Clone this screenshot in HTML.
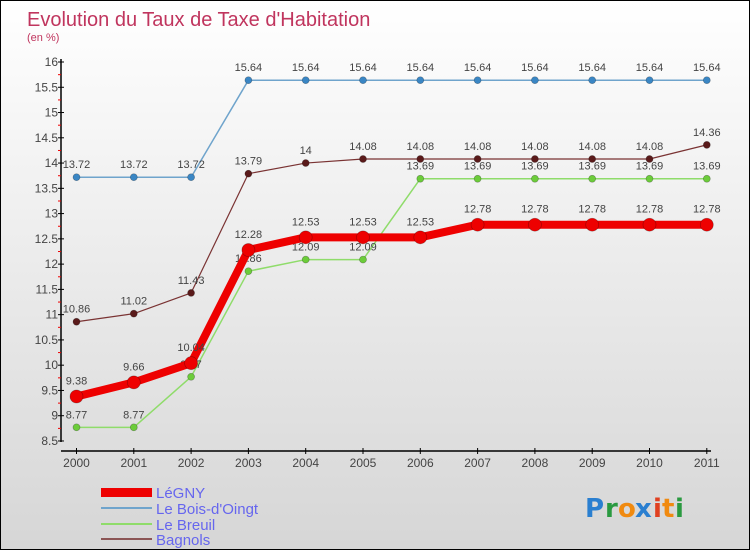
<!DOCTYPE html>
<html><head><meta charset="utf-8"><style>
body{margin:0}
#root{position:relative;width:748px;height:548px;border:1px solid #000;background:linear-gradient(#ffffff,#d6d6d6);font-family:"Liberation Sans",sans-serif;overflow:hidden}
</style></head><body>
<div id="root">
<svg id="svg" width="748" height="548" xmlns="http://www.w3.org/2000/svg" style="position:absolute;left:0;top:0">
<text x="26" y="25" font-size="20" fill="#c0355e">Evolution du Taux de Taxe d'Habitation</text>
<text x="26" y="40" font-size="11" fill="#c0355e">(en %)</text>
<g id="axes"></g><g id="series"></g>
<g>
<rect x="100" y="487" width="51" height="9" fill="#ee0000"/>
<text x="155" y="497" font-size="15" fill="#6666ee">LéGNY</text>
<rect x="100" y="506" width="51" height="2" fill="#6fa4cc"/>
<text x="155" y="513" font-size="15" fill="#6666ee">Le Bois-d'Oingt</text>
<rect x="100" y="522" width="51" height="2" fill="#8fdc6a"/>
<text x="155" y="529" font-size="15" fill="#6666ee">Le Breuil</text>
<rect x="100" y="537" width="51" height="2" fill="#8b5555"/>
<text x="155" y="544" font-size="15" fill="#6666ee">Bagnols</text>
</g>
<g font-size="26" font-family="'DejaVu Sans',sans-serif" font-weight="bold">
<text x="584" y="516" fill="#2a7fd0">P</text><text x="604" y="516" fill="#2a9a40">r</text><text x="617" y="516" fill="#f08a10">o</text><text x="634" y="516" fill="#2a7fd0">x</text><text x="652" y="516" fill="#e04020">i</text><text x="661" y="516" fill="#f08a10">t</text><text x="674" y="516" fill="#2a9a40">i</text>
</g>
</svg>
</div>
<script>
const years=["2000","2001","2002","2003","2004","2005","2006","2007","2008","2009","2010","2011"];
const yTicks=[8.5,9,9.5,10,10.5,11,11.5,12,12.5,13,13.5,14,14.5,15,15.5,16];
const legny=[9.38,9.66,10.04,12.28,12.53,12.53,12.53,12.78,12.78,12.78,12.78,12.78];
const bois=[13.72,13.72,13.72,15.64,15.64,15.64,15.64,15.64,15.64,15.64,15.64,15.64];
const breuil=[8.77,8.77,9.77,11.86,12.09,12.09,13.69,13.69,13.69,13.69,13.69,13.69];
const bagnols=[10.86,11.02,11.43,13.79,14,14.08,14.08,14.08,14.08,14.08,14.08,14.36];
const NS="http://www.w3.org/2000/svg";
const xS=i=>75.5+i*57.3;
const yS=v=>61+(16-v)*50.53;
function mk(t,a,p){const e=document.createElementNS(NS,t);for(const k in a)e.setAttribute(k,a[k]);p.appendChild(e);return e;}
const ax=document.getElementById('axes'),se=document.getElementById('series');
let l=mk('line',{x1:60,y1:58,x2:60,y2:441,stroke:'#000','stroke-width':1.5},ax);


l=mk('line',{x1:60,y1:450,x2:710,y2:450,stroke:'#000','stroke-width':1.5},ax);


yTicks.forEach((v,i)=>{const y=yS(v);
mk('line',{x1:57,y1:y,x2:63,y2:y,stroke:'#000'},ax);
if(i<yTicks.length-1)mk('line',{x1:57,y1:y-12.6,x2:60,y2:y-12.6,stroke:'#e00'},ax);
const t=mk('text',{x:57,y:y+4,'font-size':12,fill:'#444','text-anchor':'end'},ax);t.textContent=String(v);

});
years.forEach((yr,i)=>{const x=xS(i);
mk('line',{x1:x,y1:447,x2:x,y2:453,stroke:'#000'},ax);
const t=mk('text',{x:x,y:466,'font-size':12,fill:'#444','text-anchor':'middle'},ax);t.textContent=yr;

});
function series(arr,name,col,dot,w,r,dy){
const g=mk('g',{},se);


mk('polyline',{points:arr.map((v,i)=>xS(i)+','+yS(v)).join(' '),fill:'none',stroke:col,'stroke-width':w,'stroke-linejoin':'round'},g);
arr.forEach((v,i)=>{const c=mk('circle',{cx:xS(i),cy:yS(v),r:r,fill:dot,stroke:'rgba(0,0,0,0.3)','stroke-width':0.7},g);


const t=mk('text',{x:xS(i),y:yS(v)-dy,'font-size':11,fill:'#444','text-anchor':'middle'},g);t.textContent=String(v);

});}
series(bois,'bois','#6fa4cc','#3a86c4',1.5,3.5,9);
series(bagnols,'bagnols','#7a3333','#5a1a1a',1.2,3.5,9);
series(breuil,'breuil','#8fdc6a','#6ccc3a',1.5,3.5,9);
series(legny,'legny','#ee0000','#ee0000',8,6.5,12);
</script>
</body></html>
